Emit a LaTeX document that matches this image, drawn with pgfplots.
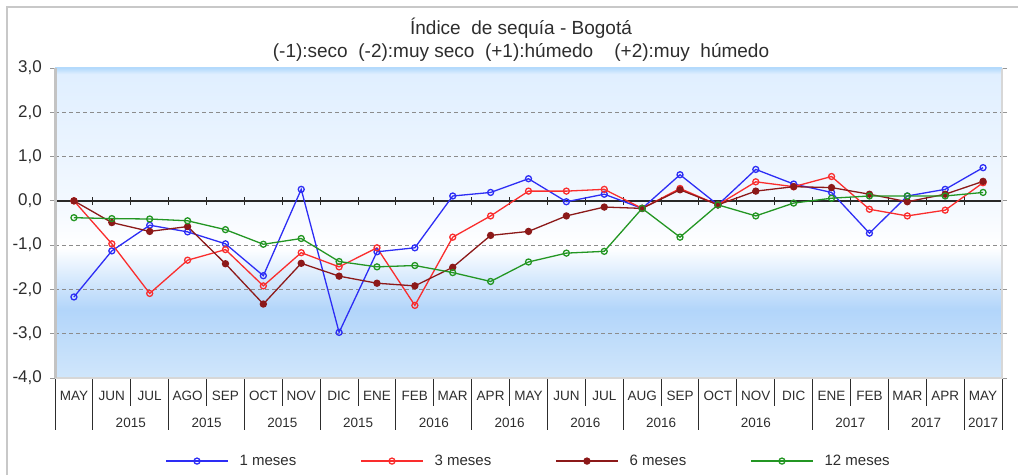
\documentclass[border=0pt]{standalone}
\usepackage{fontspec}
\setmainfont{Liberation Sans}
\usepackage{pgfplots}
\usepackage{pgfplotstable}
\pgfplotsset{compat=1.18}

\definecolor{s1}{RGB}{45,45,245}
\definecolor{s3}{RGB}{250,45,45}
\definecolor{s6}{RGB}{140,25,25}
\definecolor{s12}{RGB}{35,150,35}
\definecolor{txt}{RGB}{45,45,45}
\definecolor{bg0}{RGB}{208,230,251}
\definecolor{bg1}{RGB}{192,221,250}
\definecolor{bg2}{RGB}{178,213,250}
\definecolor{bg3}{RGB}{218,235,253}
\definecolor{bg4}{RGB}{255,255,255}
\definecolor{bg5}{RGB}{244,249,255}
\definecolor{bg6}{RGB}{234,244,255}
\definecolor{bg7}{RGB}{224,239,255}
\definecolor{bg8}{RGB}{180,218,252}

\pgfdeclareverticalshading{chartbg}{100bp}{
  color(0bp)=(bg0); color(25bp)=(bg0); color(31bp)=(bg1); color(36bp)=(bg2);
  color(41.5bp)=(bg3); color(46bp)=(bg4); color(52.5bp)=(bg5); color(62.5bp)=(bg6);
  color(74bp)=(bg7); color(75bp)=(bg8); color(100bp)=(bg8)}

% indice de sequia, one column per window
\pgfplotstableread{
x  s1     s3     s6     s12
0  -2.17   0.00   0.00  -0.38
1  -1.13  -0.97  -0.49  -0.40
2  -0.55  -2.09  -0.69  -0.41
3  -0.70  -1.34  -0.58  -0.45
4  -0.97  -1.10  -1.42  -0.65
5  -1.69  -1.92  -2.33  -0.98
6   0.26  -1.17  -1.41  -0.85
7  -2.97  -1.49  -1.70  -1.37
8  -1.15  -1.06  -1.86  -1.49
9  -1.06  -2.36  -1.92  -1.46
10  0.11  -0.82  -1.50  -1.62
11  0.19  -0.34  -0.78  -1.82
12  0.50   0.22  -0.69  -1.38
13 -0.02   0.22  -0.34  -1.18
14  0.15   0.26  -0.14  -1.14
15 -0.17  -0.17  -0.17  -0.17
16  0.59   0.28   0.25  -0.82
17 -0.09  -0.09  -0.09  -0.09
18  0.71   0.43   0.22  -0.34
19  0.38   0.32   0.32  -0.05
20  0.19   0.55   0.30   0.06
21 -0.73  -0.19   0.15   0.11
22  0.11  -0.34  -0.02   0.11
23  0.26  -0.21   0.15   0.11
24  0.75   0.41   0.44   0.19
}\sequia

\begin{document}
\begin{tikzpicture}
\path[use as bounding box] (0,0) rectangle (1018pt,475pt);
\draw[color={rgb,255:red,200;green,200;blue,200}, line width=2pt] (7pt,0) -- (7pt,468pt) -- (1018pt,468pt);

\begin{axis}[
    at={(55pt,97pt)}, anchor=south west,
    scale only axis, width=947pt, height=310pt,
    xmin=-0.5, xmax=24.5, ymin=-4, ymax=3,
    clip=false,
    axis line style={draw=none},
    axis background/.style={shading=chartbg},
    xtick={0,...,24},
    xticklabels={MAY,JUN,JUL,AGO,SEP,OCT,NOV,DIC,ENE,FEB,MAR,APR,MAY,JUN,JUL,AUG,SEP,OCT,NOV,DIC,ENE,FEB,MAR,APR,MAY},
    x tick style={draw=none},
    xticklabel style={font=\fontsize{13.5}{13.5}\selectfont, anchor=base, yshift=-17.5pt, text=txt},
    extra x ticks={1.5,3.5,5.5,7.5,9.5,11.5,13.5,15.5,18,20.5,22.5,24},
    extra x tick labels={2015,2015,2015,2015,2016,2016,2016,2016,2016,2017,2017,2017},
    extra x tick style={x tick style={draw=none}, xticklabel style={yshift=-27pt}},
    ytick={-4,...,3},
    y tick style={color={rgb,255:red,150;green,150;blue,150}, line width=1pt},
    tick align=outside, major tick length=5pt,
    yticklabel style={font=\fontsize{17}{17}\selectfont, text=txt, inner sep=0pt, xshift=-8pt,
        /pgf/number format/.cd, use comma, fixed, fixed zerofill, precision=1, assume math mode=true},
    every axis plot/.append style={line width=1.3pt, mark size=3pt},
    legend columns=4,
    legend style={at={(axis description cs:0.5,-0.268)}, anchor=center, draw=none, fill=none,
        font=\fontsize{15}{15}\selectfont, text=txt,
        /tikz/every odd column/.append style={column sep=9pt},
        /tikz/every even column/.append style={column sep=62pt}},
    legend image code/.code={
        \draw[mark repeat=2,mark phase=2,#1] plot coordinates {(0pt,0pt) (31pt,0pt) (62pt,0pt)};
    },
]

% dashed grid
\pgfplotsinvokeforeach{-3,-2,-1,1,2}{
    \draw[color={rgb,255:red,140;green,140;blue,140}, line width=1.1pt, dash pattern=on 4pt off 3pt]
        (axis cs:-0.5,#1) -- (axis cs:24.5,#1);
}
% zero line with category ticks
\draw[color={rgb,255:red,40;green,40;blue,40}, line width=1.5pt] (axis cs:-0.5,0) -- (axis cs:24.5,0);
\pgfplotsinvokeforeach{-0.5,0.5,...,24.5}{
    \draw[color={rgb,255:red,40;green,40;blue,40}, line width=1pt] (axis cs:#1,0) ++(0pt,-4pt) -- ++(0pt,8pt);
}

\addplot[color=s1, mark=o, mark options={fill=white, solid}] table[x=x, y=s1] {\sequia};
\addlegendentry{1 meses}
\addplot[color=s3, mark=o, mark options={fill=white, solid}] table[x=x, y=s3] {\sequia};
\addlegendentry{3 meses}
\addplot[color=s6, mark=*, mark options={fill=s6, solid}] table[x=x, y=s6] {\sequia};
\addlegendentry{6 meses}
\addplot[color=s12, mark=o, mark options={fill=white, solid}] table[x=x, y=s12] {\sequia};
\addlegendentry{12 meses}

% plot area border
\draw[color={rgb,255:red,215;green,215;blue,215}, line width=1.5pt] (rel axis cs:1,1) -- (rel axis cs:1,0) -- (rel axis cs:0,0);
\draw[color=bg8, line width=2pt] (rel axis cs:0,1) -- (rel axis cs:1,1);
\draw[color={rgb,255:red,195;green,195;blue,195}, line width=3pt] (rel axis cs:0,0) -- (rel axis cs:0,1);

% category separators below the plot
\pgfplotsinvokeforeach{-0.5,0.5,2.5,4.5,6.5,8.5,10.5,12.5,14.5,16.5,19.5,21.5,23.5,24.5}{
    \draw[color=txt, line width=1pt] (axis cs:#1,-4) ++(0pt,-1pt) -- ++(0pt,-51pt);
}
\pgfplotsinvokeforeach{1.5,3.5,5.5,7.5,9.5,11.5,13.5,15.5,17.5,18.5,20.5,22.5}{
    \draw[color=txt, line width=1pt] (axis cs:#1,-4) ++(0pt,-1pt) -- ++(0pt,-27pt);
}
\end{axis}

\node[anchor=base, font=\fontsize{19}{19}\selectfont, text=txt] at (521pt,440.6pt) {Índice\ \ de sequía - Bogotá};
\node[anchor=base, font=\fontsize{19}{19}\selectfont, text=txt] at (521pt,417pt)
    {(-1):seco\ \ (-2):muy seco\ \ (+1):húmedo\ \ \ \ (+2):muy\ \ húmedo};
\end{tikzpicture}
\end{document}
